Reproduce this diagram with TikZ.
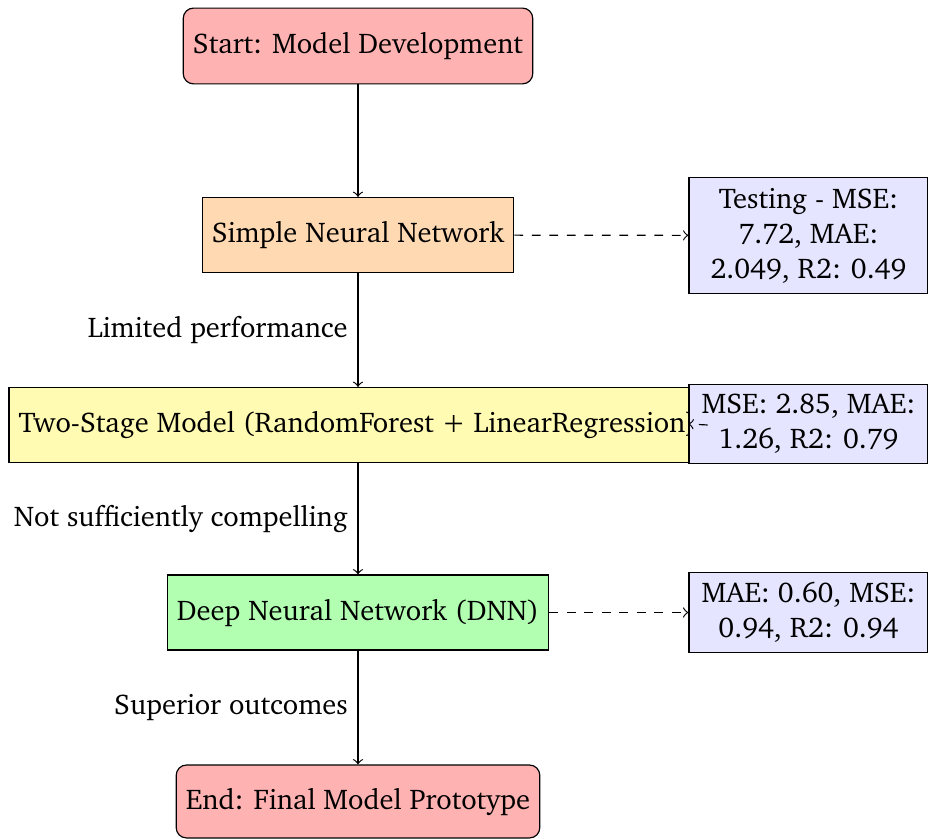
\documentclass[tikz,border=0pt]{standalone}
\usepackage[T1]{fontenc}
\usepackage{charter}
\begin{document}
\begin{tikzpicture}[x=0.343pt,y=-0.343pt,
  every node/.style={font=\fontsize{9.78pt}{12pt}\selectfont},
  box/.style={draw, minimum height=25.7pt, inner sep=3.33pt},
  term/.style={box, rounded corners=3.5pt},
  res/.style={draw, fill=blue!10, align=center, minimum width=82pt, inner sep=3.33pt},
  flow/.style={->},
  side/.style={->, dashed},
  lab/.style={midway, left, inner sep=3.33pt}]
\useasboundingbox (0,0) rectangle (928,839);
\node[term, fill=red!30, minimum width=119pt, minimum height=26pt] (start) at (358,46) {Start: Model Development};
\node[box, fill=orange!30, minimum width=106pt] (snn) at (358,235) {Simple Neural Network};
\node[box, fill=yellow!30, minimum width=238.7pt] (two) at (358,425) {Two-Stage Model (RandomForest + LinearRegression)};
\node[box, fill=green!30, minimum width=130.7pt] (dnn) at (358,612.5) {Deep Neural Network (DNN)};
\node[term, fill=red!30, minimum width=124pt, minimum height=25pt] (end) at (358,801.5) {End: Final Model Prototype};
\node[res, minimum height=40pt] (r1) at (808.5,235.5) {Testing - MSE:\\7.72, MAE:\\2.049, R2: 0.49};
\node[res, minimum height=26.8pt] (r2) at (808.5,424) {MSE: 2.85, MAE:\\1.26, R2: 0.79};
\node[res, minimum height=26.8pt] (r3) at (808.5,612.5) {MAE: 0.60, MSE:\\0.94, R2: 0.94};
\draw[flow] (start) -- (snn);
\draw[flow] (snn) -- node[lab] {Limited performance} (two);
\draw[flow] (two) -- node[lab] {Not sufficiently compelling} (dnn);
\draw[flow] (dnn) -- node[lab] {Superior outcomes} (end);
\draw[side] (snn) -- (r1);
\draw[side] (two.east) -- (r2.west);
\draw[side] (dnn) -- (r3);
\end{tikzpicture}
\end{document}
